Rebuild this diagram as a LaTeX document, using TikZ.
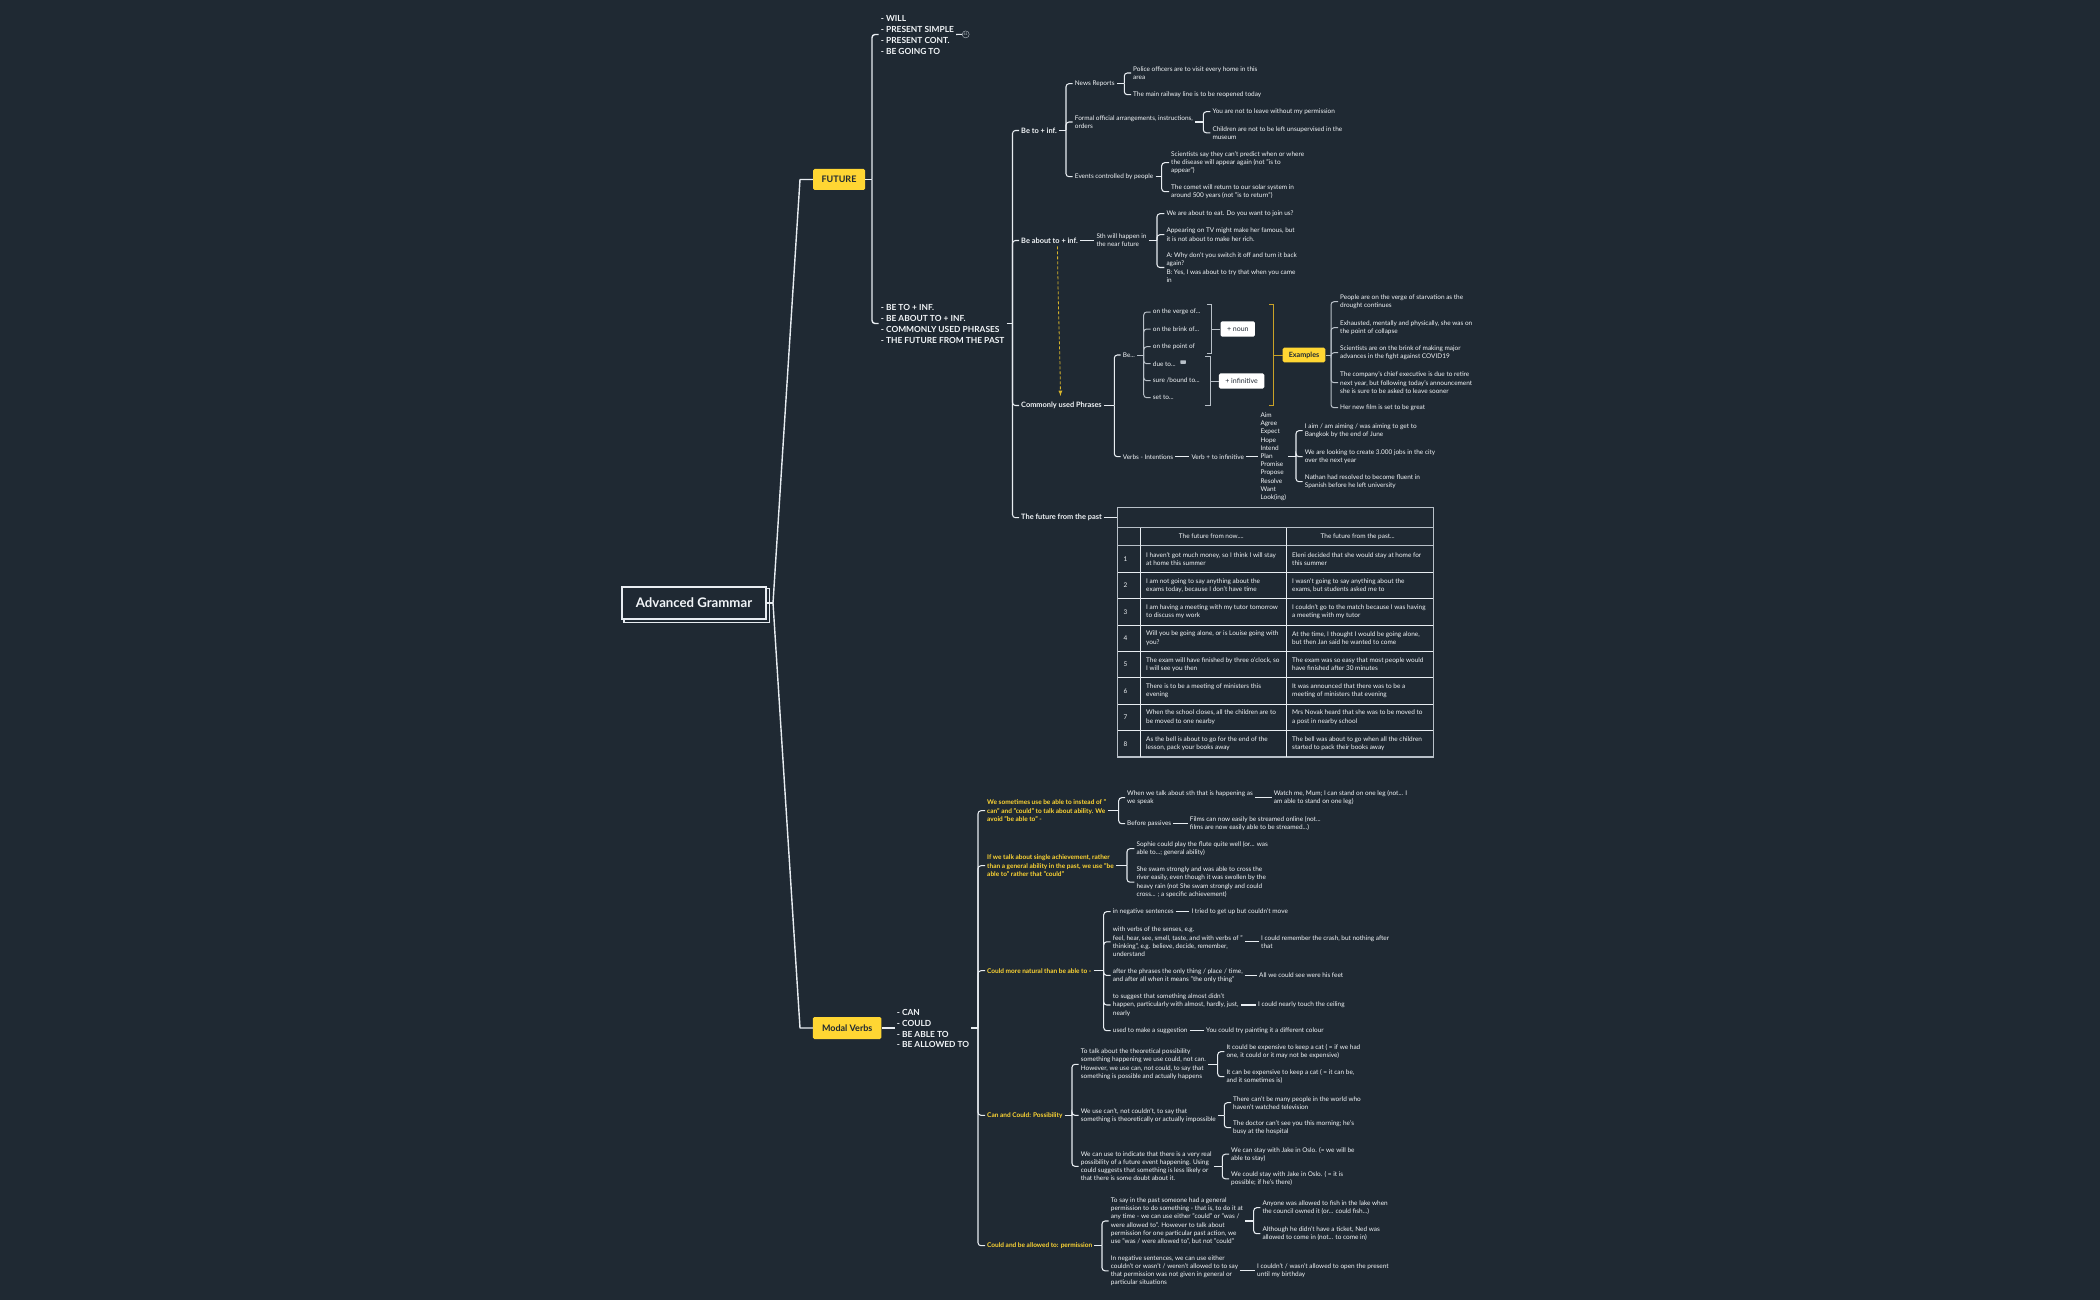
\documentclass[tikz,border=0pt]{standalone}
\usepackage{fontspec}
\setmainfont{Lato}
\definecolor{paper}{HTML}{1F2933}
\definecolor{ink}{HTML}{F2F5F8}
\definecolor{wire}{HTML}{E8EDF2}
\definecolor{dimwire}{HTML}{B8C0C8}
\definecolor{sun}{HTML}{FFD633}
\definecolor{olive}{HTML}{C9A227}
\tikzset{
  txt/.style={anchor=west,xshift=-2pt,inner xsep=2pt,inner ysep=0pt,align=left,text=ink,font=\fontsize{6.45}{8.2}\selectfont},
  subhead/.style={txt,font=\fontsize{7.4}{8.2}\selectfont\bfseries},
  capslist/.style={txt,font=\fontsize{8.4}{11}\selectfont\bfseries},
  yellownote/.style={txt,text=sun,font=\fontsize{6.5}{8.2}\selectfont\bfseries},
  flag/.style={rounded corners=1.5pt,fill=sun,text=paper,inner sep=0pt,font=\fontsize{9}{11}\selectfont\bfseries},
  whitetag/.style={rounded corners=1.5pt,fill=white,text=paper,inner sep=0pt,font=\fontsize{7}{8}\selectfont},
  link/.style={draw=wire,line width=1.05pt},
  kink/.style={link,rounded corners=3pt},
  mainline/.style={draw=wire,line width=1.4pt},
  dimk/.style={draw=dimwire,line width=1pt,rounded corners=3pt},
  rim/.style={draw=dimwire,line width=1.2pt},
  tabrule/.style={draw=wire,line width=1pt},
}
\begin{document}
\begin{tikzpicture}[x=1pt,y=-1pt,>=latex]
\path[use as bounding box,fill=paper] (0,0) rectangle (2100,1300);
% centre
\node[draw=wire,line width=1.3pt,text=ink,inner sep=0pt,minimum width=144pt,minimum height=32pt,font=\fontsize{13.2}{15}\selectfont\bfseries] (root) at (694,603){Advanced Grammar};
\draw[draw=wire,line width=1.3pt] ([yshift=-2pt]root.north east)--([xshift=2.5pt,yshift=-2pt]root.north east)--([xshift=2.5pt,yshift=-2.5pt]root.south east)--([xshift=2.5pt,yshift=-2.5pt]root.south west)--([xshift=2.5pt]root.south west);
\node[flag,minimum width=52pt,minimum height=21pt] (future) at (839,179.5){FUTURE};
\node[flag,minimum width=68.5pt,minimum height=22pt] (modal) at (847.2,1028){Modal Verbs};
\coordinate (froot) at (773,603);
\coordinate (ffuture) at (800,179.5);
\coordinate (fmodal) at (800,1028);
\draw[mainline] (root.east)--(froot);
\draw[mainline,line join=round] (froot)--(ffuture)--(future.west);
\draw[mainline,line join=round] (froot)--(fmodal)--(modal.west);
% future
\node[capslist] (will) at (880.7,34.5){- WILL\\- PRESENT SIMPLE\\- PRESENT CONT.\\- BE GOING TO};
\node[capslist] (beto) at (880.7,323.5){- BE TO + INF.\\- BE ABOUT TO + INF.\\- COMMONLY USED PHRASES\\- THE FUTURE FROM THE PAST};
\node[circle,draw=dimwire,line width=.4pt,inner sep=0pt,minimum size=7pt,text=dimwire,font=\fontsize{3.6}{4}\selectfont] (fold) at (965.7,34.4){41};
\draw[link] (will.east)--(fold.west);
\coordinate (ff) at (872,179.5);
\draw[mainline] (future.east)--(ff);
\foreach \c in {will,beto} \draw[mainline,rounded corners=3pt] (ff) |- (\c.west);
\node[subhead] (bt) at (1021,130.5){Be to + inf.};
\node[subhead] (ba) at (1021,240.5){Be about to + inf.};
\node[subhead] (cp) at (1021,405.5){Commonly used Phrases};
\node[subhead] (fp) at (1021,517.7){The future from the past};
\coordinate (fbeto) at (1012.5,323.5);
\draw[link] (beto.east)--(fbeto);
\foreach \c in {bt,ba,cp,fp} \draw[kink] (fbeto) |- (\c.west);
% be to + inf.
\node[txt] (news) at (1074.7,83.7){News Reports};
\node[txt] (formal) at (1074.7,122){Formal official arrangements, instructions,\\orders};
\node[txt] (events) at (1074.7,176.7){Events controlled by people};
\coordinate (fbt) at (1066,130.5);
\draw[link] (bt.east)--(fbt);
\foreach \c in {news,formal,events} \draw[kink] (fbt) |- (\c.west);
\node[txt] (police) at (1133,73){Police officers are to visit every home in this\\area};
\node[txt] (railway) at (1133,94.7){The main railway line is to be reopened today};
\coordinate (fnews) at (1124.3,83.7);
\draw[link] (news.east)--(fnews);
\foreach \c in {police,railway} \draw[kink] (fnews) |- (\c.west);
\node[txt] (leave) at (1212.3,111.7){You are not to leave without my permission};
\node[txt] (child) at (1212.3,132.8){Children are not to be left unsupervised in the\\museum};
\coordinate (fformal) at (1203.3,122);
\draw[link] (formal.east)--(fformal);
\foreach \c in {leave,child} \draw[kink] (fformal) |- (\c.west);
\node[txt] (disease) at (1171,162.7){Scientists say they can't predict when or where\\the disease will appear again (not "is to\\appear")};
\node[txt] (comet) at (1171,191.7){The comet will return to our solar system in\\around 500 years (not "is to return")};
\coordinate (fevents) at (1161.7,176.7);
\draw[link] (events.east)--(fevents);
\foreach \c in {disease,comet} \draw[kink] (fevents) |- (\c.west);
% be about to
\node[txt] (soon) at (1096.3,240.5){Sth will happen in\\the near future};
\draw[link] (ba.east)--(soon.west);
\node[txt] (eat) at (1166.3,213.7){We are about to eat. Do you want to join us?};
\node[txt] (famous) at (1166.3,234.7){Appearing on TV might make her famous, but\\it is not about to make her rich.};
\node[txt] (switch) at (1166.3,267.5){A: Why don't you switch it off and turn it back\\again?\\B: Yes, I was about to try that when you came\\in};
\coordinate (fsoon) at (1157,240.5);
\draw[link] (soon.east)--(fsoon);
\foreach \c in {eat,famous,switch} \draw[kink] (fsoon) |- (\c.west);
\draw[draw=sun!85!black,line width=.8pt,densely dashed,->] ([xshift=8pt,yshift=-3pt]ba.south) .. controls (1058,310) and (1060,350) .. ([xshift=-1pt,yshift=6pt]cp.north);
% phrases
\node[txt] (be) at (1122.7,355){Be...};
\node[txt] (verbs) at (1122.7,456.7){Verbs - Intentions};
\coordinate (fcp) at (1114.3,405.5);
\draw[link] (cp.east)--(fcp);
\foreach \c in {be,verbs} \draw[kink] (fcp) |- (\c.west);
\node[txt] (verge) at (1152.7,312){on the verge of...};
\node[txt] (brink) at (1152.7,329){on the brink of...};
\node[txt] (point) at (1152.7,346.7){on the point of};
\node[txt] (due) at (1152.7,363.7){due to...};
\node[txt] (sure) at (1152.7,380.7){sure /bound to...};
\node[txt] (setto) at (1152.7,397.7){set to...};
\node[fill=dimwire,inner sep=0pt,minimum width=5.5pt,minimum height=3.5pt,rounded corners=.5pt] (memo) at (1183,362){};
\coordinate (fbe) at (1143.7,355);
\draw[dimk] (be.east)--(fbe);
\foreach \c in {verge,brink,point,due,sure,setto} \draw[dimk] (fbe) |- (\c.west);
\node[whitetag,minimum width=34.3pt,minimum height=15.4pt] (noun) at (1237.8,329){+ noun};
\node[whitetag,minimum width=45.3pt,minimum height=15.4pt] (infin) at (1241.6,381){+ infinitive};
\node[flag,font=\fontsize{7.2}{9}\selectfont\bfseries,minimum width=42.6pt,minimum height=14.6pt] (examples) at (1304,355){Examples};
\draw[draw=dimwire,line width=1pt] (1207.3,304.3)-|(1211.7,353.3)--(1207.3,353.3) (1211.7,329)--(noun.west);
\draw[draw=dimwire,line width=1pt] (1205.3,356.3)-|(1210,405.3)--(1205.3,405.3) (1210,381)--(infin.west);
\draw[draw=olive,line width=1pt] (1269.3,304.3)-|(1273.3,405.3)--(1269.3,405.3) (1273.3,355)--(examples.west);
\node[txt] (starve) at (1340,301.7){People are on the verge of starvation as the\\drought continues};
\node[txt] (exhaust) at (1340,327.7){Exhausted, mentally and physically, she was on\\the point of collapse};
\node[txt] (major) at (1340,352.7){Scientists are on the brink of making major\\advances in the fight against COVID19};
\node[txt] (retire) at (1340,382.7){The company's chief executive is due to retire\\next year, but following today's announcement\\she is sure to be asked to leave sooner};
\node[txt] (film) at (1340,407.7){Her new film is set to be great};
\coordinate (fex) at (1331,355);
\draw[dimk] (examples.east)--(fex);
\foreach \c in {starve,exhaust,major,retire,film} \draw[dimk] (fex) |- (\c.west);
\node[txt] (vinf) at (1191.3,456.7){Verb + to infinitive};
\draw[link] (verbs.east)--(vinf.west);
\node[txt] (aim) at (1260.3,456.7){Aim\\Agree\\Expect\\Hope\\Intend\\Plan\\Promise\\Propose\\Resolve\\Want\\Look(ing)};
\draw[link] (vinf.east)--(aim.west);
\node[txt] (bangkok) at (1304.7,430.7){I aim / am aiming / was aiming to get to\\Bangkok by the end of June};
\node[txt] (jobs) at (1304.7,456.7){We are looking to create 3.000 jobs in the city\\over the next year};
\node[txt] (fluent) at (1304.7,481.7){Nathan had resolved to become fluent in\\Spanish before he left university};
\coordinate (faim) at (1296,456.7);
\draw[link] (aim.east)--(faim);
\foreach \c in {bangkok,jobs,fluent} \draw[kink] (faim) |- (\c.west);
% table
\node[rim,inner sep=0pt,minimum width=315.6pt,minimum height=20pt] (tabtop) at (1275.5,517.7){};
\draw[link] (fp.east)--(tabtop.west);
\draw[rim] (1117.7,527.7) rectangle (1433.3,757);
\foreach \y in {572,598.7,625,651.3,677.7,704,730.3} \draw[tabrule] (1117.7,\y)--(1433.3,\y);
\draw[rim] (1117.7,545.7)--(1433.3,545.7);
\foreach \x in {1140.7,1286.7} \draw[tabrule] (\x,527.7)--(\x,757);
\node[txt,anchor=center,xshift=0pt,text height=5pt,text depth=1.4pt] (hnow) at (1213.3,536.7){The future from now....};
\node[txt,anchor=center,xshift=0pt,text height=5pt,text depth=1.4pt] (hpast) at (1359.7,536.7){The future from the past...};
\foreach \r/\y/\a/\b in {
1/558.8/{I haven't got much money, so I think I will stay\\at home this summer}/{Eleni decided that she would stay at home for\\this summer},
2/585.3/{I am not going to say anything about the\\exams today, because I don't have time}/{I wasn't going to say anything about the\\exams, but students asked me to},
3/611.8/{I am having a meeting with my tutor tomorrow\\to discuss my work}/{I couldn't go to the match because I was having\\a meeting with my tutor},
4/638.2/{Will you be going alone, or is Louise going with\\you?}/{At the time, I thought I would be going alone,\\but then Jan said he wanted to come},
5/664.5/{The exam will have finished by three o'clock, so\\I will see you then}/{The exam was so easy that most people would\\have finished after 30 minutes},
6/690.8/{There is to be a meeting of ministers this\\evening}/{It was announced that there was to be a\\meeting of ministers that evening},
7/717.2/{When the school closes, all the children are to\\be moved to one nearby}/{Mrs Novak heard that she was to be moved to\\a post in nearby school},
8/743.7/{As the bell is about to go for the end of the\\lesson, pack your books away}/{The bell was about to go when all the children\\started to pack their books away}}{
\node[txt] (num\r) at (1123.3,\y){\r};
\node[txt] (now\r) at (1146,\y){\a};
\node[txt] (past\r) at (1292,\y){\b};
}
% modal verbs
\node[txt,font=\fontsize{8.4}{10.7}\selectfont\bfseries] (can) at (896.7,1028.7){- CAN\\- COULD\\- BE ABLE TO\\- BE ALLOWED TO};
\coordinate (fcan) at (978,1028);
\draw[mainline] (modal.east)--(can.west|-modal.east);
\draw[link] (can.east|-fcan)--(fcan);
\node[yellownote] (ability) at (987,810.7){We sometimes use be able to instead of "\\can" and "could" to talk about ability. We\\avoid "be able to" -};
\node[yellownote] (single) at (987,865.7){If we talk about single achievement, rather\\than a general ability in the past, we use "be\\able to" rather that "could"};
\node[yellownote] (natural) at (987,970.7){Could more natural than be able to -};
\node[yellownote] (possib) at (987,1115.3){Can and Could: Possibility};
\node[yellownote] (allowed) at (987,1245.7){Could and be allowed to: permission};
\foreach \c in {ability,single,natural,possib,allowed} \draw[kink] (fcan) |- (\c.west);
\node[txt] (speak) at (1127,797.7){When we talk about sth that is happening as\\we speak};
\node[txt] (passive) at (1127,823.7){Before passives};
\coordinate (fability) at (1118.7,810.7);
\draw[link] (ability.east)--(fability);
\foreach \c in {speak,passive} \draw[kink] (fability) |- (\c.west);
\node[txt] (watch) at (1273.7,797.7){Watch me, Mum; I can stand on one leg (not... I\\am able to stand on one leg)};
\draw[link] (speak.east)--(watch.west);
\node[txt] (stream) at (1189.7,823.7){Films can now easily be streamed online (not...\\films are now easily able to be streamed...)};
\draw[link] (passive.east)--(stream.west);
\node[txt] (flute) at (1136.3,848.7){Sophie could play the flute quite well (or... was\\able to...; general ability)};
\node[txt] (swam) at (1136.3,882.2){She swam strongly and was able to cross the\\river easily, even though it was swollen by the\\heavy rain (not She swam strongly and could\\cross... ; a specific achievement)};
\coordinate (fsingle) at (1127,865.7);
\draw[link] (single.east)--(fsingle);
\foreach \c in {flute,swam} \draw[kink] (fsingle) |- (\c.west);
\node[txt] (neg) at (1112.7,911.7){in negative sentences};
\node[txt] (senses) at (1112.7,941.8){with verbs of the senses, e.g.\\feel, hear, see, smell, taste, and with verbs of "\\thinking", e.g. believe, decide, remember,\\understand};
\node[txt] (only) at (1112.7,975.4){after the phrases the only thing / place / time,\\and after all when it means "the only thing"};
\node[txt] (almost) at (1112.7,1005){to suggest that something almost didn't\\happen, particularly with almost, hardly, just,\\nearly};
\node[txt] (suggest) at (1112.7,1030.7){used to make a suggestion};
\coordinate (fnatural) at (1103.7,970.7);
\draw[link] (natural.east)--(fnatural);
\foreach \c in {neg,senses,only,almost,suggest} \draw[kink] (fnatural) |- (\c.west);
\node[txt] (tried) at (1191.3,911.7){I tried to get up but couldn't move};
\draw[link] (neg.east)--(tried.west);
\node[txt] (crash) at (1261,941.8){I could remember the crash, but nothing after\\that};
\draw[link] (senses.east)--(crash.west);
\node[txt] (feet) at (1259,975.4){All we could see were his feet};
\draw[link] (only.east)--(feet.west);
\node[txt] (ceiling) at (1258,1005){I could nearly touch the ceiling};
\draw[link] (almost.east)--(ceiling.west);
\node[txt] (paint) at (1206,1030.7){You could try painting it a different colour};
\draw[link] (suggest.east)--(paint.west);
\node[txt] (theory) at (1080.7,1064.3){To talk about the theoretical possibility\\something happening we use could, not can.\\However, we use can, not could, to say that\\something is possible and actually happens};
\node[txt] (cant) at (1080.7,1115.3){We use can't, not couldn't, to say that\\something is theoretically or actually impossible};
\node[txt] (real) at (1080.7,1166.3){We can use to indicate that there is a very real\\possibility of a future event happening. Using\\could suggests that something is less likely or\\that there is some doubt about it.};
\coordinate (fpossib) at (1072,1115.3);
\draw[link] (possib.east)--(fpossib);
\foreach \c in {theory,cant,real} \draw[kink] (fpossib) |- (\c.west);
\node[txt] (catone) at (1226.3,1051.7){It could be expensive to keep a cat ( = if we had\\one, it could or it may not be expensive)};
\node[txt] (cattwo) at (1226.3,1076.7){It can be expensive to keep a cat ( = it can be,\\and it sometimes is)};
\coordinate (ftheory) at (1217.7,1064.3);
\draw[link] (theory.east)--(ftheory);
\foreach \c in {catone,cattwo} \draw[kink] (ftheory) |- (\c.west);
\node[txt] (world) at (1233,1102.7){There can't be many people in the world who\\haven't watched television};
\node[txt] (doctor) at (1233,1127.7){The doctor can't see you this morning; he's\\busy at the hospital};
\coordinate (fcant) at (1224.3,1115.3);
\draw[link] (cant.east)--(fcant);
\foreach \c in {world,doctor} \draw[kink] (fcant) |- (\c.west);
\node[txt] (oslo) at (1231,1154.2){We can stay with Jake in Oslo. (= we will be\\able to stay)};
\node[txt] (oslob) at (1231,1178.8){We could stay with Jake in Oslo. ( = it is\\possible; if he's there)};
\coordinate (freal) at (1222.3,1166.3);
\draw[link] (real.east)--(freal);
\foreach \c in {oslo,oslob} \draw[kink] (freal) |- (\c.west);
\node[txt] (general) at (1110.7,1221){To say in the past someone had a general\\permission to do something - that is, to do it at\\any time - we can use either "could" or "was /\\were allowed to". However to talk about\\permission for one particular past action, we\\use "was / were allowed to", but not "could"};
\node[txt] (refuse) at (1110.7,1270.8){In negative sentences, we can use either\\couldn't or wasn't / weren't allowed to to say\\that permission was not given in general or\\particular situations};
\coordinate (fallowed) at (1102,1245.7);
\draw[link] (allowed.east)--(fallowed);
\foreach \c in {general,refuse} \draw[kink] (fallowed) |- (\c.west);
\node[txt] (fish) at (1262.3,1207.7){Anyone was allowed to fish in the lake when\\the council owned it (or... could fish...)};
\node[txt] (ticket) at (1262.3,1233.7){Although he didn't have a ticket, Ned was\\allowed to come in (not... to come in)};
\coordinate (fgeneral) at (1253.7,1221);
\draw[link] (general.east)--(fgeneral);
\foreach \c in {fish,ticket} \draw[kink] (fgeneral) |- (\c.west);
\node[txt] (present) at (1257,1270.8){I couldn't / wasn't allowed to open the present\\until my birthday};
\draw[link] (refuse.east)--(present.west);
\end{tikzpicture}
\end{document}
